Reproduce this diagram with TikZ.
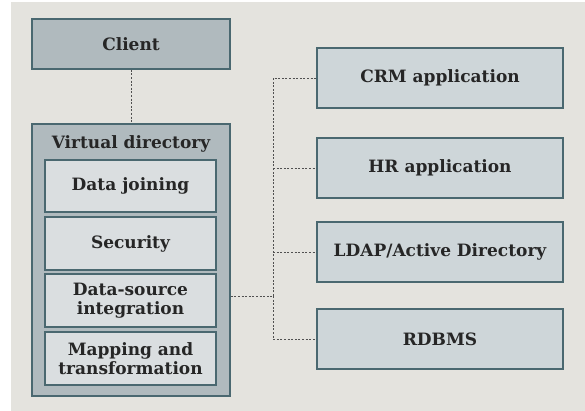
\documentclass[tikz,border=0pt]{standalone}
\usepackage{fontspec}
\setmainfont{DejaVu Serif}
\usepackage{tikz}
\usetikzlibrary{positioning,calc}

\definecolor{bgpaper}{HTML}{E4E3DE}
\definecolor{edgeteal}{HTML}{4A6870}
\definecolor{darkfill}{HTML}{B0BABE}
\definecolor{midfill}{HTML}{CED6D9}
\definecolor{lightfill}{HTML}{DADEE0}
\definecolor{dotgray}{HTML}{505050}

\begin{document}
\begin{tikzpicture}[x=1pt,y=-1pt,
    box/.style={draw=edgeteal, line width=1.6pt, font=\bfseries\fontsize{17}{18.5}\selectfont,
        text=black!85, align=center, inner sep=0pt},
    topbox/.style={box, fill=darkfill, minimum width=198, minimum height=50},
    sidebox/.style={box, fill=midfill, minimum width=246, minimum height=60},
    partbox/.style={box, fill=lightfill, minimum width=171, minimum height=52},
    link/.style={dotgray, line width=0.8pt, dash pattern=on 2pt off 1.6pt}]
        % Paper
        \useasboundingbox (0,0) rectangle (585,411);
        \fill[bgpaper] (11,2) rectangle (585,411);

        % Client
        \node[topbox] (client) at (131,44) {Client};

        % Virtual directory with its parts
        \node[topbox, minimum height=272] (vd) at (131,260) {};
        \node[box, draw=none] (vdtitle) at (131,144) {Virtual directory};
        \node[partbox] (join) at (130.5,186) {Data joining};
        \node[partbox, minimum height=53] (sec) at (130.5,243.5) {Security};
        \node[partbox, minimum height=53] (dsi) at (130.5,300.5) {Data-source\\integration};
        \node[partbox, minimum height=53] (map) at (130.5,358.5) {Mapping and\\transformation};

        % Data sources
        \node[sidebox] (crm) at (440,78) {CRM application};
        \node[sidebox] (hr) at (440,168) {HR application};
        \node[sidebox] (ldap) at (440,252) {LDAP/Active Directory};
        \node[sidebox] (rdb) at (440,339) {RDBMS};

        % Links
        \coordinate (bus) at (273,296);
        \draw[link] (client.south) -- (vd.north);
        \draw[link] (vd.east |- bus) -- (bus);
        \draw[link] (bus) |- (crm.west);
        \draw[link] (bus) |- (rdb.west);
        \draw[link] (bus |- hr.west) -- (hr.west);
        \draw[link] (bus |- ldap.west) -- (ldap.west);
\end{tikzpicture}
\end{document}
